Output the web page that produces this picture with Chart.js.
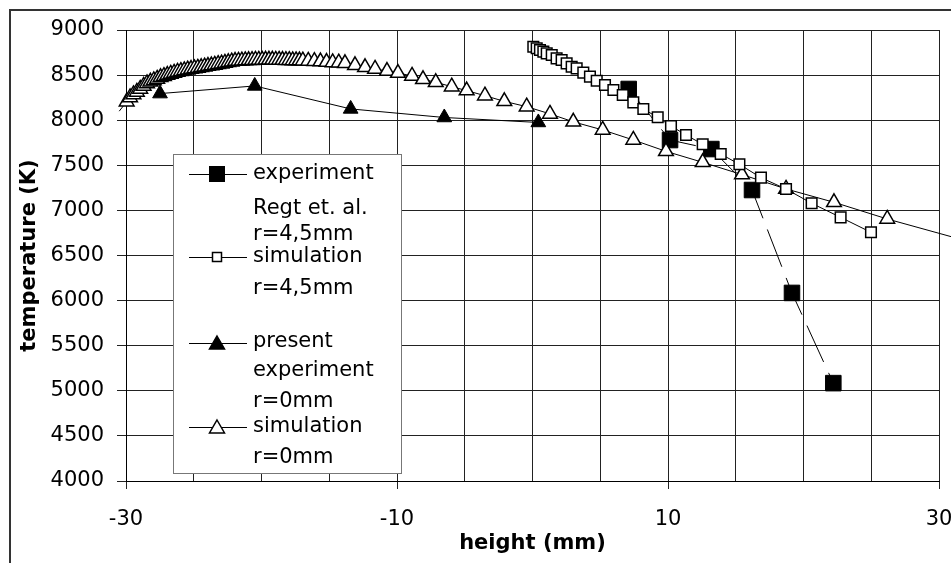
<!DOCTYPE html>
<html>
<head>
<meta charset="utf-8">
<script src="https://cdn.jsdelivr.net/npm/chart.js"></script>
<style>
  body { margin: 0; background: #fff; }
</style>
</head>
<body>
<canvas id="chart" width="951" height="563"></canvas>
<script>
// experiment Regt et. al., r=4,5mm
const regtX = [7.1, 10.15, 13.2, 16.2, 19.15, 22.2];
const regtY = [8346, 7780, 7680, 7226, 6085, 5085];

// simulation r=4,5mm
const sim45X = [0.06, 0.31, 0.55, 0.80, 1.05, 1.42, 1.78, 2.15, 2.52, 2.89, 3.26, 3.75, 4.24, 4.74, 5.35,
  5.97, 6.66, 7.44, 8.18, 9.24, 10.22, 11.33, 12.56, 13.89, 15.27, 16.86, 18.71, 20.60, 22.74, 24.98];
const sim45Y = [8815, 8797, 8778, 8760, 8741, 8723, 8686, 8667, 8630, 8593, 8575, 8527, 8483, 8438, 8390,
  8335, 8279, 8198, 8124, 8032, 7936, 7836, 7733, 7625, 7511, 7363, 7237, 7079, 6923, 6757];

// present experiment r=0mm
const presX = [-27.49, -20.5, -13.42, -6.51, 0.43];
const presY = [8295, 8380, 8125, 8030, 7975];

// simulation r=0mm (first and last points sit outside the axis range)
const sim0X = [-30.5, -29.95, -29.7, -29.45, -29.2, -28.95, -28.7, -28.45, -28.2, -27.95, -27.7, -27.45,
  -27.2, -26.95, -26.7, -26.45, -26.2, -25.95, -25.7, -25.45, -25.2, -24.95, -24.7, -24.45, -24.2,
  -23.95, -23.7, -23.45, -23.2, -22.95, -22.7, -22.45, -22.2, -21.95, -21.7, -21.45, -21.2, -20.95,
  -20.7, -20.45, -20.2, -19.95, -19.7, -19.45, -19.2, -18.95, -18.7, -18.45, -18.2, -17.95, -17.7,
  -17.45, -17.2, -16.95, -16.55, -16.1, -15.65, -15.2, -14.75, -14.3, -13.84, -13.1, -12.36, -11.62,
  -10.74, -9.93, -8.89, -8.08, -7.14, -5.96, -4.86, -3.51, -2.08, -0.43, 1.29, 3.01, 5.18, 7.44,
  9.85, 12.56, 15.46, 18.71, 22.25, 26.18, 32];
const sim0Y = [8100, 8205, 8253, 8286, 8314, 8347, 8380, 8408, 8425, 8441, 8458, 8475,
  8488, 8500, 8513, 8524, 8535, 8544, 8552, 8560, 8567, 8574, 8580, 8586, 8593,
  8600, 8606, 8613, 8621, 8627, 8635, 8642, 8649, 8655, 8657, 8660, 8662, 8664,
  8666, 8668, 8668, 8668, 8669, 8669, 8669, 8668, 8668, 8667, 8666, 8665, 8663,
  8662, 8661, 8660, 8657, 8654, 8650, 8645, 8641, 8637, 8630, 8608, 8586, 8568,
  8545, 8523, 8491, 8453, 8420, 8372, 8328, 8272, 8209, 8150, 8070, 7982, 7892, 7781,
  7655, 7533, 7397, 7238, 7090, 6905, 6663];

const xLabels = [-30, -10, 10, 30];
const legendTexts = [
  ['experiment', 'Regt et. al.', 'r=4,5mm'],
  ['simulation', 'r=4,5mm'],
  ['present', 'experiment', 'r=0mm'],
  ['simulation', 'r=0mm']
];

const FONT = '"DejaVu Sans", Arial, sans-serif';

function pts(xs, ys) {
  return xs.map((x, i) => ({ x: x, y: ys[i] }));
}

// marker drawing for the hand made legend
function marker(ctx, kind, x, y) {
  ctx.save();
  ctx.lineWidth = 1.5;
  ctx.strokeStyle = '#000';
  if (kind === 'fsq') {
    ctx.fillStyle = '#000';
    ctx.fillRect(x - 8, y - 8, 16, 16);
  } else if (kind === 'osq') {
    ctx.fillStyle = '#fff';
    ctx.fillRect(x - 4.5, y - 4.5, 9, 9);
    ctx.strokeRect(x - 4.5, y - 4.5, 9, 9);
  } else {
    ctx.beginPath();
    ctx.moveTo(x, y - 7);
    ctx.lineTo(x + 7.5, y + 6);
    ctx.lineTo(x - 7.5, y + 6);
    ctx.closePath();
    ctx.fillStyle = kind === 'ftri' ? '#000' : '#fff';
    ctx.fill();
    ctx.stroke();
  }
  ctx.restore();
}

const framePlugin = {
  id: 'frame',
  beforeDraw(chart) {
    const ctx = chart.ctx;
    ctx.save();
    ctx.fillStyle = '#fff';
    ctx.fillRect(0, 0, chart.width, chart.height);
    ctx.strokeStyle = '#333';
    ctx.lineWidth = 2;
    ctx.strokeRect(10, 10, 2000, 2000);
    ctx.restore();
  },
  afterDatasetsDraw(chart) {
    const ctx = chart.ctx;
    ctx.save();
    ctx.fillStyle = '#fff';
    ctx.fillRect(173.5, 154.5, 228, 319);
    ctx.strokeStyle = '#777';
    ctx.lineWidth = 1;
    ctx.strokeRect(173.5, 154.5, 228, 319);

    const lineY = [174, 257, 343, 427];
    const kinds = ['fsq', 'osq', 'ftri', 'otri'];
    const textY = [[174, 209, 235], [257, 289], [342, 371, 402], [427, 458]];
    ctx.font = '21px ' + FONT;
    ctx.textBaseline = 'middle';
    ctx.textAlign = 'left';
    for (let i = 0; i < 4; i++) {
      ctx.beginPath();
      ctx.strokeStyle = '#000';
      ctx.lineWidth = 1;
      ctx.moveTo(189, lineY[i] + 0.5);
      ctx.lineTo(247, lineY[i] + 0.5);
      ctx.stroke();
      marker(ctx, kinds[i], 217, lineY[i]);
      ctx.fillStyle = '#000';
      legendTexts[i].forEach((t, j) => ctx.fillText(t, 253, textY[i][j]));
    }
    ctx.restore();
  }
};

new Chart(document.getElementById('chart'), {
  type: 'scatter',
  data: {
    datasets: [
      {
        label: 'simulation r=4,5mm',
        data: pts(sim45X, sim45Y),
        showLine: true,
        borderColor: '#000',
        borderWidth: 1,
        pointStyle: 'rect',
        pointRadius: 7.5,
        pointBorderWidth: 1.5,
        pointBackgroundColor: '#fff',
        pointBorderColor: '#000'
      },
      {
        label: 'simulation r=0mm',
        data: pts(sim0X, sim0Y),
        showLine: true,
        clip: false,
        borderColor: '#000',
        borderWidth: 1,
        pointStyle: 'triangle',
        pointRadius: sim0X.map(x => (x < -30 || x > 30) ? 0 : 8.5),
        pointBorderWidth: 1.5,
        pointBackgroundColor: '#fff',
        pointBorderColor: '#000'
      },
      {
        label: 'present experiment r=0mm',
        data: pts(presX, presY),
        showLine: true,
        borderColor: '#000',
        borderWidth: 1,
        pointStyle: 'triangle',
        pointRadius: 8.5,
        pointBorderWidth: 1,
        pointBackgroundColor: '#000',
        pointBorderColor: '#000'
      },
      {
        label: 'experiment Regt et. al. r=4,5mm',
        data: pts(regtX, regtY),
        showLine: true,
        borderColor: '#000',
        borderWidth: 1,
        borderDash: [40, 12],
        pointStyle: 'rect',
        pointRadius: 11,
        pointBorderWidth: 1,
        pointBackgroundColor: '#000',
        pointBorderColor: '#000'
      }
    ]
  },
  options: {
    responsive: false,
    animation: false,
    layout: { padding: { top: 30, right: 12, left: 0, bottom: 0 } },
    plugins: {
      legend: { display: false },
      tooltip: { enabled: false }
    },
    scales: {
      x: {
        type: 'linear',
        min: -30,
        max: 30,
        afterFit(s) { s.height = 82; s.paddingLeft = 0; s.paddingRight = 0; },
        ticks: {
          stepSize: 5,
          autoSkip: false,
          maxRotation: 0,
          padding: 18,
          color: '#000',
          font: { family: FONT, size: 21 },
          callback: v => xLabels.includes(v) ? String(v) : ''
        },
        grid: {
          color: '#222',
          lineWidth: 1,
          tickLength: 8,
          tickColor: c => (c.tick && xLabels.includes(c.tick.value)) ? '#222' : 'rgba(0,0,0,0)'
        },
        border: { color: '#000' },
        title: {
          display: true,
          text: 'height (mm)',
          color: '#000',
          font: { family: FONT, size: 21, weight: 'bold' },
          padding: { top: 0, bottom: 7 }
        }
      },
      y: {
        min: 4000,
        max: 9000,
        afterFit(s) { s.width = 126; },
        ticks: {
          stepSize: 500,
          padding: 13,
          color: '#000',
          font: { family: FONT, size: 21 },
          callback: v => String(v)
        },
        grid: { color: '#222', lineWidth: 1, tickLength: 9 },
        border: { color: '#000' },
        title: {
          display: true,
          text: 'temperature (K)',
          color: '#000',
          font: { family: FONT, size: 21, weight: 'bold' },
          padding: { top: 17, bottom: 0 }
        }
      }
    }
  },
  plugins: [framePlugin]
});
</script>
</body>
</html>
